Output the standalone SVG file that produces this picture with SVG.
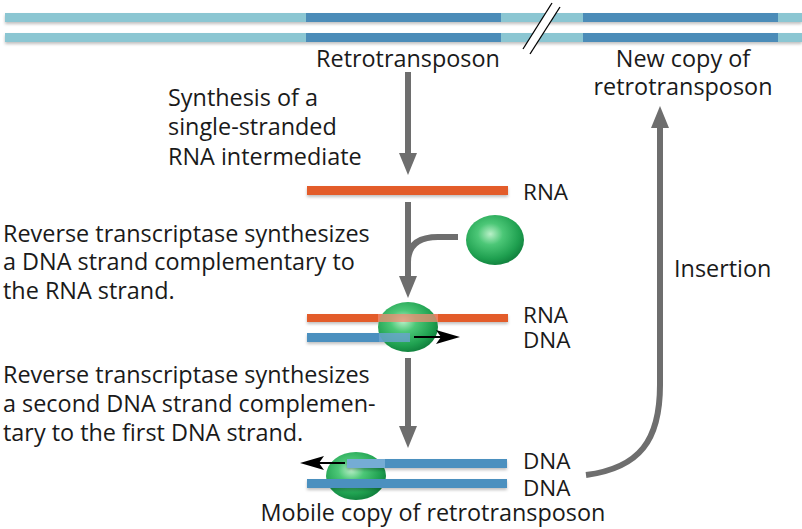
<svg xmlns="http://www.w3.org/2000/svg" width="802" height="529" viewBox="0 0 802 529">
<defs>
<style>
text{font-family:"Open Sans","Noto Sans","Liberation Sans",sans-serif;font-size:23.4px;fill:#1a1a1a}
.lb{font-size:22.5px}
.lt{fill:#8bc6d2}
.dk{fill:#4b8cb8}
.rna{fill:#e35b2a}
.dna{fill:#4b90bf}
.gr{fill:none;stroke:#6e6e6e;stroke-width:6}
.blk{fill:none;stroke:#000;stroke-width:2}
</style>
<radialGradient id="ball" cx="0.42" cy="0.38" r="0.62">
<stop offset="0" stop-color="#b9f0c8"/>
<stop offset="0.35" stop-color="#4cc777"/>
<stop offset="0.8" stop-color="#1fa050"/>
<stop offset="1" stop-color="#138540"/>
</radialGradient>
<filter id="sh" x="-5%" y="-50%" width="110%" height="250%">
<feDropShadow dx="0" dy="2" stdDeviation="1.5" flood-color="#000" flood-opacity="0.25"/>
</filter>
<marker id="gh" viewBox="0 0 22 22" refX="0" refY="11" markerWidth="22" markerHeight="22" markerUnits="userSpaceOnUse" orient="auto">
<path d="M0,2 L0,20 L22,11 z" fill="#6e6e6e"/>
</marker>
</defs>
<rect width="802" height="529" fill="#fff"/>

<g id="chromosome" filter="url(#sh)">
<rect class="lt" x="5" y="13" width="797" height="9"/>
<rect class="dk" x="306" y="13" width="195" height="9"/>
<rect class="dk" x="583" y="13" width="195" height="9"/>
<rect class="lt" x="5" y="33" width="797" height="9"/>
<rect class="dk" x="306" y="33" width="195" height="9"/>
<rect class="dk" x="583" y="33" width="195" height="9"/>
</g>
<g id="break">
<polygon points="552,3 560,7 530,54 523,49" fill="#fff"/>
<line x1="552" y1="3" x2="523" y2="49" stroke="#000" stroke-width="1.3"/>
<line x1="560" y1="7" x2="530" y2="54" stroke="#000" stroke-width="1.3"/>
</g>
<g id="labels-top">
<text x="408" y="67" text-anchor="middle">Retrotransposon</text>
<text x="683" y="67" text-anchor="middle">New copy of</text>
<text x="683" y="95" text-anchor="middle">retrotransposon</text>
</g>

<g id="connectors">
<path class="gr" d="M408,72 V153" marker-end="url(#gh)"/>
<path class="gr" d="M408,202 V276" marker-end="url(#gh)"/>
<path class="gr" d="M458,237 H438 Q408,237 408,262"/>
<path class="gr" d="M408,358 V426" marker-end="url(#gh)"/>
<path class="gr" d="M586,475 C640,468 660,440 660,385 V128" marker-end="url(#gh)"/>
</g>

<g id="step1">
<text x="168" y="106">Synthesis of a</text>
<text x="168" y="135">single-stranded</text>
<text x="168" y="165">RNA intermediate</text>
</g>

<g id="rna-intermediate">
<rect class="rna" x="307" y="186" width="201" height="9" filter="url(#sh)"/>
<text class="lb" x="523" y="200">RNA</text>
</g>

<g id="enzyme">
<ellipse cx="495" cy="240" rx="29" ry="25" fill="url(#ball)"/>
</g>

<g id="step2">
<text x="3" y="242">Reverse transcriptase synthesizes</text>
<text x="3" y="270">a DNA strand complementary to</text>
<text x="3" y="299">the RNA strand.</text>
</g>

<g id="rna-dna-hybrid">
<rect class="rna" x="307" y="314" width="201" height="8" filter="url(#sh)"/>
<rect class="dna" x="307" y="333" width="103" height="9" filter="url(#sh)"/>
<ellipse cx="408" cy="327" rx="30" ry="25" fill="url(#ball)"/>
<rect x="378" y="314" width="60" height="8" fill="#f08c74" opacity="0.75"/>
<rect x="379" y="333" width="31" height="9" fill="#6aa4cf" opacity="0.8"/>
<line class="blk" x1="414" y1="337" x2="442" y2="337"/>
<path d="M436,330 L460,337 L436,344 L441,337 z" fill="#000"/>
<text class="lb" x="523" y="323">RNA</text>
<text class="lb" x="523" y="348">DNA</text>
</g>

<g id="step3">
<text x="3" y="383">Reverse transcriptase synthesizes</text>
<text x="3" y="412">a second DNA strand complemen-</text>
<text x="3" y="441">tary to the first DNA strand.</text>
</g>

<g id="mobile-copy">
<ellipse cx="356" cy="476" rx="30" ry="24" fill="url(#ball)"/>
<rect class="dna" x="307" y="479" width="200" height="9" filter="url(#sh)"/>
<rect class="dna" x="347" y="459" width="160" height="9" filter="url(#sh)"/>
<rect x="347" y="459" width="38" height="9" fill="#7fb3d9" opacity="0.8"/>
<line class="blk" x1="345" y1="463" x2="318" y2="463"/>
<path d="M324,456 L300,463 L324,470 L319,463 z" fill="#000"/>
<text class="lb" x="523" y="469">DNA</text>
<text class="lb" x="523" y="496">DNA</text>
<text x="433" y="521" text-anchor="middle">Mobile copy of retrotransposon</text>
</g>

<g id="insertion-label">
<text x="674" y="277">Insertion</text>
</g>
</svg>
